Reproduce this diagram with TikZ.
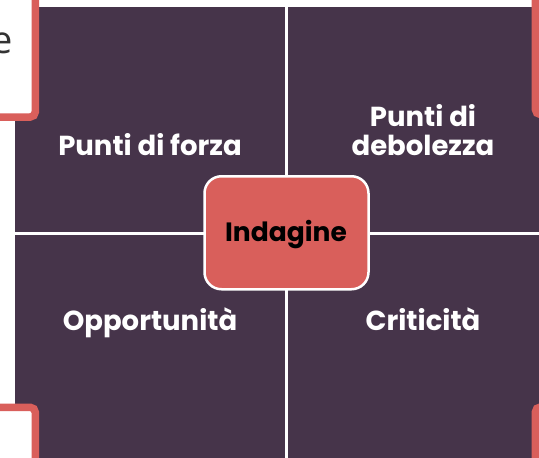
\documentclass[tikz,border=0pt]{standalone}
\usepackage{fontspec}
\setmainfont{Poppins}
\newfontfamily\efont{Open Sans}
\definecolor{plum}{RGB}{70,52,74}
\definecolor{coral}{RGB}{217,95,91}
\tikzset{
  quad/.style={fill=plum},
  sidebox/.style={draw=coral, line width=7.5pt, fill=white, rounded corners=5pt},
  lbl/.style={text=white, font=\fontsize{27.5}{29}\selectfont\bfseries, anchor=base, align=center, inner sep=0pt},
  centre/.style={fill=coral, draw=white, line width=2.5pt, rounded corners=17pt, minimum width=164pt, minimum height=113pt, inner sep=0pt},
}
\begin{document}
\begin{tikzpicture}[x=1pt,y=-1pt]
\useasboundingbox (0,0) rectangle (539,458);
\clip (0,0) rectangle (539,458);
% quadrants
\fill[quad] (15,6.5) rectangle (285,232);
\fill[quad] (287.5,6.5) rectangle (560,232);
\fill[quad] (15,235) rectangle (285,480);
\fill[quad] (287.5,235) rectangle (560,480);
% side boxes (partly outside the frame)
\draw[sidebox] (-60,-60) rectangle (35.3,117);
\draw[sidebox] (-60,407.3) rectangle (35.3,520);
\draw[sidebox] (535.4,-60) rectangle (620,114.5);
\draw[sidebox] (535.4,407) rectangle (620,520);
\node[anchor=base east, inner sep=0pt, text=black!80, font=\efont\fontsize{38}{40}\selectfont] (etext) at (13,53) {e};
% labels
\node[lbl] (forza) at (150,155) {Punti di forza};
\node[lbl] (deb) at (423,155) {Punti di\\debolezza};
\node[lbl] (opp) at (150,330) {Opportunità};
\node[lbl] (crit) at (423,330) {Criticità};
% centre
\node[centre] (c) at (286.5,232.75) {};
\node[lbl, text=black, font=\fontsize{26.5}{29}\selectfont\bfseries] (ind) at (286,241.5) {Indagine};
\end{tikzpicture}
\end{document}
